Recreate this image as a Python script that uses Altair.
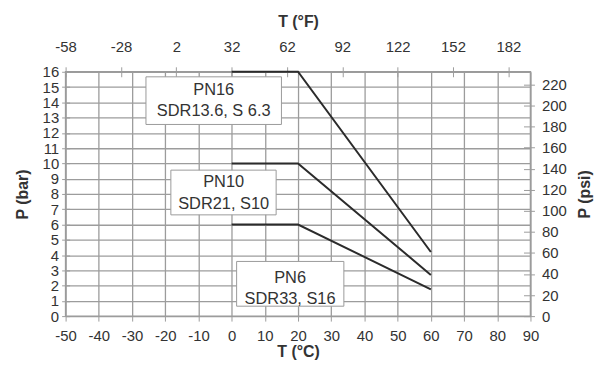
import altair as alt
import pandas as pd

# ---- data ----
series = ["PN16", "PN10", "PN6"]
pn16_t = [0, 20, 60]
pn16_p = [16, 16, 4.2]
pn10_t = [0, 20, 60]
pn10_p = [10, 10, 2.7]
pn6_t = [0, 20, 60]
pn6_p = [6, 6, 1.75]

c_ticks = list(range(-50, 91, 10))
f_ticks = [-58, -28, 2, 32, 62, 92, 122, 152, 182]
bar_ticks = list(range(0, 17))
psi_ticks = list(range(0, 221, 20))

label_top = ["PN16", "PN10", "PN6"]
label_bottom = ["SDR13.6, S 6.3", "SDR21, S10", "SDR33, S16"]

# annotation boxes (data coordinates: °C, bar)
box_t1 = [-25.8, -18.3, 1.5]
box_t2 = [15.0, 13.4, 33.8]
box_p1 = [12.55, 6.63, 0.65]
box_p2 = [15.67, 9.56, 3.58]
text_t = [-5.4, -2.4, 17.6]
text_p_top = [14.83, 8.78, 2.47]
text_p_bot = [13.40, 7.35, 1.10]

# ---- tables ----
rows = []
for name, ts, ps in [("PN16", pn16_t, pn16_p), ("PN10", pn10_t, pn10_p), ("PN6", pn6_t, pn6_p)]:
    for i, (t, p) in enumerate(zip(ts, ps)):
        rows.append({"series": name, "t": t, "p": p, "i": i})
lines_df = pd.DataFrame(rows)

boxes_df = pd.DataFrame({"t": box_t1, "t2": box_t2, "p": box_p1, "p2": box_p2})
texts_df = pd.DataFrame({
    "t": text_t + text_t,
    "p": text_p_top + text_p_bot,
    "label": label_top + label_bottom,
})

FONT = "Liberation Sans, Arial, sans-serif"
GRID = "#9c9c9c"
TXT = "#333333"
LBL = "'' + datum.value"

x_scale = alt.Scale(domain=[-50, 90], nice=False, zero=False)
y_scale = alt.Scale(domain=[0, 16], nice=False, zero=True)

x_axis = alt.Axis(
    values=c_ticks, title="T (°C)", orient="bottom", grid=True, gridColor=GRID, gridWidth=1.3,
    tickColor=GRID, tickSize=5, domain=False, labelPadding=8, labelFontSize=15,
    labelFont=FONT, labelColor=TXT, labelFlush=False, labelOverlap=False, labelExpr=LBL,
    titleFont=FONT, titleFontSize=16, titleFontWeight="bold", titleColor=TXT, titlePadding=0,
)
y_axis = alt.Axis(
    values=bar_ticks, title="P (bar)", orient="left", grid=True, gridColor=GRID, gridWidth=1.3,
    tickColor=GRID, tickSize=8, offset=-4, domain=False, labelPadding=3, labelFontSize=15,
    labelFont=FONT, labelColor=TXT, labelFlush=False, labelOverlap=False, labelExpr=LBL,
    titleFont=FONT, titleFontSize=16, titleFontWeight="bold", titleColor=TXT, titlePadding=12,
)

X = alt.X("t:Q", scale=x_scale, axis=x_axis)
Y = alt.Y("p:Q", scale=y_scale, axis=y_axis)

lines = alt.Chart(lines_df).mark_line(color="#2b2b2b", strokeWidth=2).encode(
    x=X, y=Y, detail="series:N", order="i:Q"
)
boxes = alt.Chart(boxes_df).mark_rect(fill="white", stroke="#9a9a9a", strokeWidth=1).encode(
    x=X, x2="t2:Q", y=Y, y2="p2:Q"
)
texts = alt.Chart(texts_df).mark_text(font=FONT, fontSize=16.5, color=TXT, align="center", baseline="middle").encode(
    x=X, y=Y, text="label:N"
)
main = alt.layer(boxes, lines, texts)

# top °F axis
f_df = pd.DataFrame({"f": f_ticks, "p": [0] * len(f_ticks)})
top = alt.Chart(f_df).mark_point(opacity=0).encode(
    x=alt.X("f:Q", scale=alt.Scale(domain=[-58, 194], nice=False, zero=False),
            axis=alt.Axis(values=f_ticks, orient="top", title="T (°F)", grid=False, offset=-5,
                          tickSize=10, tickColor=GRID, domain=False, labelPadding=12,
                          labelFontSize=15, labelFont=FONT, labelColor=TXT, labelFlush=False,
                          labelOverlap=False, labelExpr=LBL, titleFont=FONT, titleFontSize=16,
                          titleFontWeight="bold", titleColor=TXT, titlePadding=11)),
    y=alt.Y("p:Q", scale=alt.Scale(domain=[0, 16], nice=False), axis=None),
)

# right psi axis
psi_df = pd.DataFrame({"psi": psi_ticks, "t": [0] * len(psi_ticks)})
right = alt.Chart(psi_df).mark_point(opacity=0).encode(
    x=alt.X("t:Q", scale=alt.Scale(domain=[-50, 90], nice=False, zero=False), axis=None),
    y=alt.Y("psi:Q", scale=alt.Scale(domain=[0, 16 * 14.5038], nice=False, zero=True),
            axis=alt.Axis(values=psi_ticks, orient="right", title="P (psi)", grid=False, offset=-7,
                          tickSize=11, tickColor=GRID, domain=False, labelPadding=7,
                          labelFontSize=15, labelFont=FONT, labelColor=TXT, labelFlush=False,
                          labelOverlap=False, labelExpr=LBL, titleFont=FONT, titleFontSize=16,
                          titleFontWeight="bold", titleColor=TXT, titlePadding=10,
                          titleAngle=270, titleBaseline="top")),
)

chart = alt.layer(main, top, right).resolve_scale(x="independent", y="independent").properties(
    width=468, height=246,
    autosize=alt.AutoSizeParams(type="none"),
    padding={"left": 58, "top": 63, "right": 70, "bottom": 48},
    background="white",
).configure_view(stroke="#9a9a9a", strokeWidth=1.5)

chart.save("out.html", embed_options={"renderer": "svg", "actions": False})
